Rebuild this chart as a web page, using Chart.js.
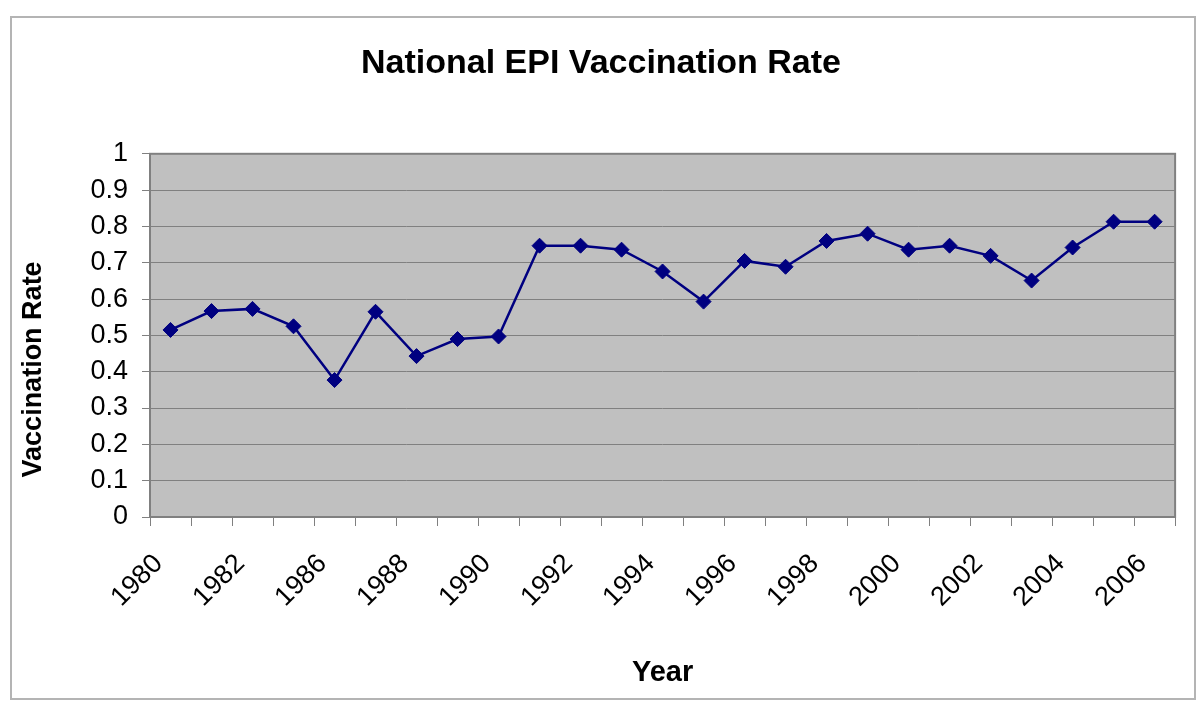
<!DOCTYPE html>
<html>
<head>
<meta charset="utf-8">
<title>National EPI Vaccination Rate</title>
<script src="https://cdn.jsdelivr.net/npm/chart.js@4/dist/chart.umd.min.js"></script>
<style>
  html, body { margin: 0; padding: 0; background: #fff; }
  #wrap { width: 1200px; height: 704px; position: relative; }
</style>
</head>
<body>
<div id="wrap"><canvas id="epiChart" width="1200" height="704"></canvas></div>
<script>
// data
const years = ['1980', '1981', '1982', '1985', '1986', '1987', '1988', '1989', '1990',
    '1991', '1992', '1993', '1994', '1995', '1996', '1997', '1998', '1999', '2000',
    '2001', '2002', '2003', '2004', '2005', '2006'];
const vaccRate = [0.515, 0.567, 0.573, 0.525, 0.377, 0.565, 0.443, 0.49, 0.497,
    0.747, 0.747, 0.736, 0.676, 0.593, 0.705, 0.689, 0.76, 0.78, 0.736,
    0.747, 0.719, 0.651, 0.742, 0.813, 0.813];
const yTitle = 'Vaccination Rate';

const FONT = "'Liberation Sans', Arial, sans-serif";

// gray plot area, outer frame and the y axis title (sits a bit low, like excel)
const frame = {
    id: 'frame',
    beforeDraw(chart) {
        const ctx = chart.ctx;
        const a = chart.chartArea;
        ctx.save();
        ctx.strokeStyle = '#b4b4b4';
        ctx.lineWidth = 2;
        ctx.strokeRect(11, 17, 1184, 682);
        ctx.fillStyle = '#c0c0c0';
        ctx.fillRect(a.left, a.top, a.right - a.left, a.bottom - a.top);
        ctx.restore();
    },
    beforeDatasetsDraw(chart) {
        const ctx = chart.ctx;
        const a = chart.chartArea;
        ctx.save();
        ctx.strokeStyle = '#808080';
        ctx.lineWidth = 2;
        ctx.strokeRect(a.left, a.top, a.right - a.left, a.bottom - a.top);
        // y title
        ctx.translate(34, (a.top + a.bottom) / 2 + 34);
        ctx.rotate(-Math.PI / 2);
        ctx.fillStyle = '#000';
        ctx.font = 'bold 27px ' + FONT;
        ctx.textAlign = 'center';
        ctx.textBaseline = 'middle';
        ctx.fillText(yTitle, 0, 0);
        ctx.restore();
    }
};

const ctx = document.getElementById('epiChart').getContext('2d');
const chart = new Chart(ctx, {
    type: 'line',
    data: {
        labels: years,
        datasets: [{
            label: yTitle,
            data: vaccRate,
            borderColor: '#000080',
            backgroundColor: '#000080',
            borderWidth: 2.5,
            pointStyle: 'rectRot',
            pointRadius: 7.5,
            pointBorderWidth: 1,
            fill: false,
            tension: 0
        }]
    },
    options: {
        responsive: false,
        animation: false,
        layout: { padding: { left: 26, right: 24, top: 0, bottom: 14 } },
        plugins: {
            legend: { display: false },
            tooltip: { enabled: false },
            title: {
                display: true,
                text: 'National EPI Vaccination Rate',
                color: '#000',
                font: { family: FONT, size: 34, weight: 'bold' },
                padding: { top: 43, bottom: 70 }
            }
        },
        scales: {
            x: {
                offset: true,
                grid: { display: true, drawOnChartArea: false, drawTicks: true, tickLength: 9, color: '#808080', offset: true },
                border: { display: false },
                ticks: {
                    autoSkip: false,
                    maxRotation: 45,
                    minRotation: 45,
                    padding: 22,
                    labelOffset: -12,
                    color: '#000',
                    font: { family: FONT, size: 27 },
                    callback: function (v, i) { return i % 2 === 0 ? years[i] : ''; }
                },
                title: {
                    display: true,
                    text: 'Year',
                    color: '#000',
                    font: { family: FONT, size: 29, weight: 'bold' },
                    padding: { top: 0, bottom: 0 }
                },
                afterFit: function (s) { s.height = 173; }
            },
            y: {
                min: 0,
                max: 1,
                ticks: {
                    stepSize: 0.1,
                    padding: 14,
                    color: '#000',
                    font: { family: FONT, size: 27 },
                    callback: function (v) { return String(Math.round(v * 10) / 10); }
                },
                grid: { color: '#808080', tickLength: 8, lineWidth: 1 },
                border: { display: false },
                title: { display: false },
                afterFit: function (s) { s.width = 124; }
            }
        }
    },
    plugins: [frame]
});
</script>
</body>
</html>
